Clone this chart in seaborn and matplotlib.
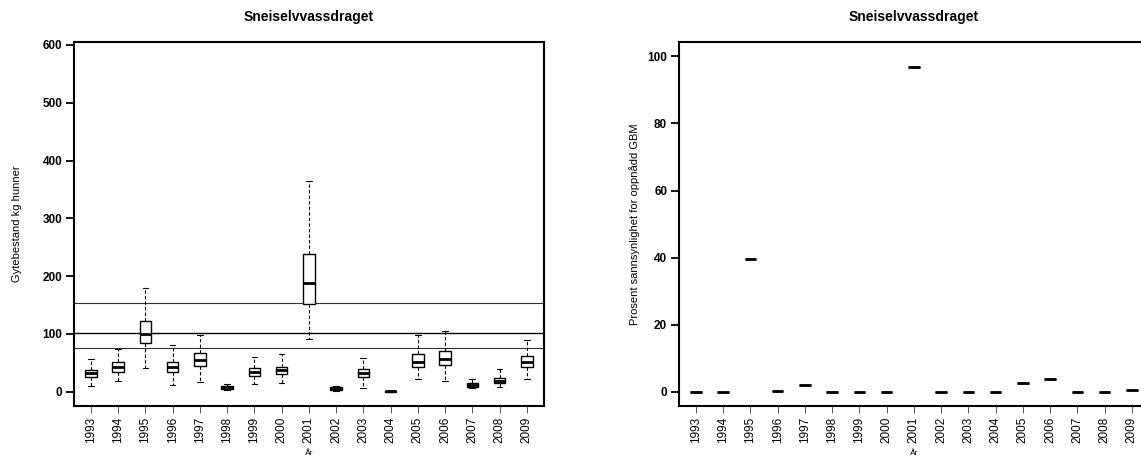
import numpy as np
import pandas as pd
import matplotlib
matplotlib.use("Agg")
import matplotlib.pyplot as plt
import seaborn as sns

# ---------------- data ----------------
years = [str(y) for y in range(1993, 2010)]

# Left panel: box statistics per year (kg females)
whisk_low = [9.3, 18.0, 40.5, 11.6, 16.2, 2.9, 13.3, 14.5, 91.2, 1.8, 6.9, 0.0, 21.4, 19.0, 5.8, 8.1, 21.4]
q1 =        [26.0, 34.6, 83.7, 34.6, 44.5, 4.7, 26.6, 30.1, 151.7, 3.5, 24.9, 0.2, 42.7, 46.7, 8.7, 14.5, 42.7]
median =    [32.4, 42.7, 99.8, 43.3, 54.3, 7.6, 34.0, 37.0, 188.6, 5.2, 31.8, 0.4, 51.9, 57.1, 11.6, 19.0, 51.9]
q3 =        [38.0, 50.8, 122.8, 51.9, 66.4, 9.9, 41.5, 43.3, 237.7, 7.6, 38.7, 0.7, 65.2, 70.9, 14.5, 24.2, 61.2]
whisk_high = [56.6, 73.4, 180.0, 80.8, 98.0, 13.9, 60.6, 64.7, 365.0, 9.9, 58.3, 1.2, 97.5, 105.5, 21.4, 39.8, 88.9]

# Reference lines (kg)
ref_lines = [154, 101, 76.5]

# Right panel: percent probability of reaching GBM
prob = [0.0, 0.0, 39.5, 0.3, 2.0, 0.0, 0.0, 0.0, 96.8, 0.0, 0.0, 0.0, 2.7, 3.9, 0.0, 0.0, 0.4]

title = "Sneiselvvassdraget"
ylabel_left = "Gytebestand kg hunner"
ylabel_right = "Prosent sannsynlighet for oppnådd GBM"
xlabel = "År"

# ---------------- build frames ----------------
rows = []
for i, y in enumerate(years):
    for v in (whisk_low[i], q1[i], median[i], q3[i], whisk_high[i]):
        rows.append({"year": y, "value": v})
df_left = pd.DataFrame(rows)
df_right = pd.DataFrame({"year": years, "value": prob})

# ---------------- style ----------------
sns.set_theme(style="white")
plt.rcParams["font.family"] = ["Liberation Sans", "DejaVu Sans"]
plt.rcParams["text.color"] = "black"
plt.rcParams["axes.labelcolor"] = "black"
plt.rcParams["xtick.color"] = "black"
plt.rcParams["ytick.color"] = "black"

W, H = 1141, 458
fig = plt.figure(figsize=(W / 100, H / 100), dpi=100)

def ax_rect(x0, x1, y0, y1):
    return [x0 / W, (H - y1) / H, (x1 - x0) / W, (y1 - y0) / H]

ax1 = fig.add_axes(ax_rect(74, 544, 42, 406))
ax2 = fig.add_axes(ax_rect(679, 1149, 42, 406))

common = dict(
    color="white", linecolor="black", fliersize=0,
    whiskerprops=dict(linestyle=(0, (3, 2)), linewidth=0.8),
    capprops=dict(linewidth=0.8),
    medianprops=dict(linewidth=2.0, color="black"),
    boxprops=dict(linewidth=1.0),
)

sns.boxplot(data=df_left, x="year", y="value", order=years, ax=ax1,
            whis=(0, 100), width=0.42, linewidth=1.0, **common)
for k, yv in enumerate(ref_lines):
    ax1.axhline(yv, color="black" if k == 1 else "#333333",
                lw=1.0 if k == 1 else 0.8, zorder=1)

sns.boxplot(data=df_right, x="year", y="value", order=years, ax=ax2,
            whis=(0, 100), width=0.42, linewidth=1.0, **common)

ax1.set_ylim(-24.7, 605)
ax1.set_yticks([0, 100, 200, 300, 400, 500, 600])
ax2.set_ylim(-4.27, 104.3)
ax2.set_yticks([0, 20, 40, 60, 80, 100])

for ax, ylab, lx in ((ax1, ylabel_left, -0.111), (ax2, ylabel_right, -0.083)):
    ax.set_xlim(-0.62, 16.63)
    ax.set_title(title, fontsize=10, fontweight="bold", pad=15, color="black")
    ax.set_ylabel(ylab, fontsize=8, color="black")
    ax.yaxis.set_label_coords(lx, 0.5)
    ax.set_xlabel(xlabel, fontsize=6, labelpad=5, color="black")
    for s in ax.spines.values():
        s.set_visible(True)
        s.set_color("black")
        s.set_linewidth(1.5)
    ax.tick_params(axis="x", bottom=True, length=5, width=0.7, color="#555555",
                   pad=3, labelsize=8.5, labelrotation=90, labelcolor="black")
    ax.tick_params(axis="y", left=True, length=5.5, width=1.3, color="black",
                   pad=3, labelsize=8.5, labelcolor="black")
    for t in ax.get_yticklabels():
        t.set_fontweight("bold")
    ax.grid(False)

fig.savefig("out.png", dpi=100)
